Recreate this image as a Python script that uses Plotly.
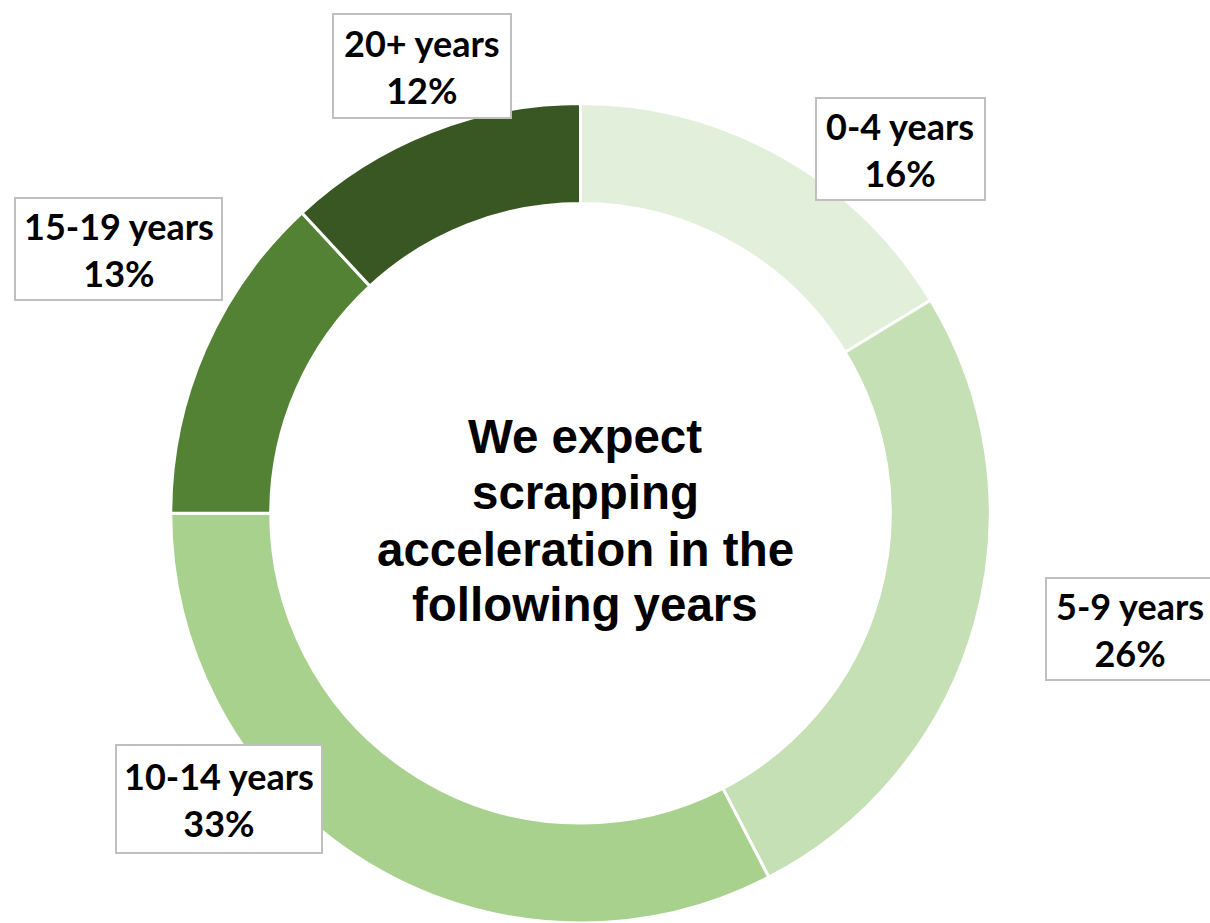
import plotly.graph_objects as go

categories = ["0-4 years", "5-9 years", "10-14 years", "15-19 years", "20+ years"]
shares = [16.3, 26.1, 32.6, 13.1, 11.9]
colors = ["#E2EFDA", "#C5E0B4", "#A9D18E", "#548235", "#385723"]
center_lines = ["We expect", "scrapping", "acceleration in the", "following years"]

W, H = 1210, 923

fig = go.Figure(go.Pie(
    labels=categories, values=shares, sort=False, direction="clockwise",
    rotation=0, hole=0.756, textinfo="none", hoverinfo="label+percent",
    marker=dict(colors=colors, line=dict(color="white", width=3)),
    domain=dict(x=[170 / W, 991 / W], y=[0, 819.5 / H]),
    showlegend=False,
))

# label boxes: (x0, y0, x1, y1) in px, text center px
boxes = {
    "0-4 years": ((816, 98, 985, 200), (900.5, 149)),
    "5-9 years": ((1046, 578, 1225, 680), (1130, 629)),
    "10-14 years": ((116, 745, 322, 853), (219, 799)),
    "15-19 years": ((15, 198, 222, 300), (118.5, 249)),
    "20+ years": ((333, 14, 511, 118), (422, 66)),
}
total = sum(shares)
for cat, val in zip(categories, shares):
    (x0, y0, x1, y1), (cx, cy) = boxes[cat]
    fig.add_shape(
        type="rect", xref="paper", yref="paper",
        x0=x0 / W, x1=x1 / W, y0=1 - y1 / H, y1=1 - y0 / H,
        line=dict(color="#BFBFBF", width=2), fillcolor="white", layer="above",
    )
    pct = round(100 * val / total)
    fig.add_annotation(
        x=cx / W, y=1 - cy / H, xref="paper", yref="paper",
        xanchor="center", yanchor="middle", showarrow=False,
        text=f"<b>{cat}</b><br><b>{pct}%</b>",
        font=dict(family="Lato", size=36, color="black"), align="center",
    )

line_y = [436, 493, 549, 604]
for txt, ly in zip(center_lines, line_y):
    fig.add_annotation(
        x=585 / W, y=1 - ly / H, xref="paper", yref="paper",
        xanchor="center", yanchor="middle", showarrow=False,
        text=f"<b>{txt}</b>",
        font=dict(family="Liberation Sans", size=47.5, color="black"),
    )

fig.update_layout(
    width=W, height=H, margin=dict(l=0, r=0, t=0, b=0),
    paper_bgcolor="white", plot_bgcolor="white",
)
fig.write_html("out.html")
